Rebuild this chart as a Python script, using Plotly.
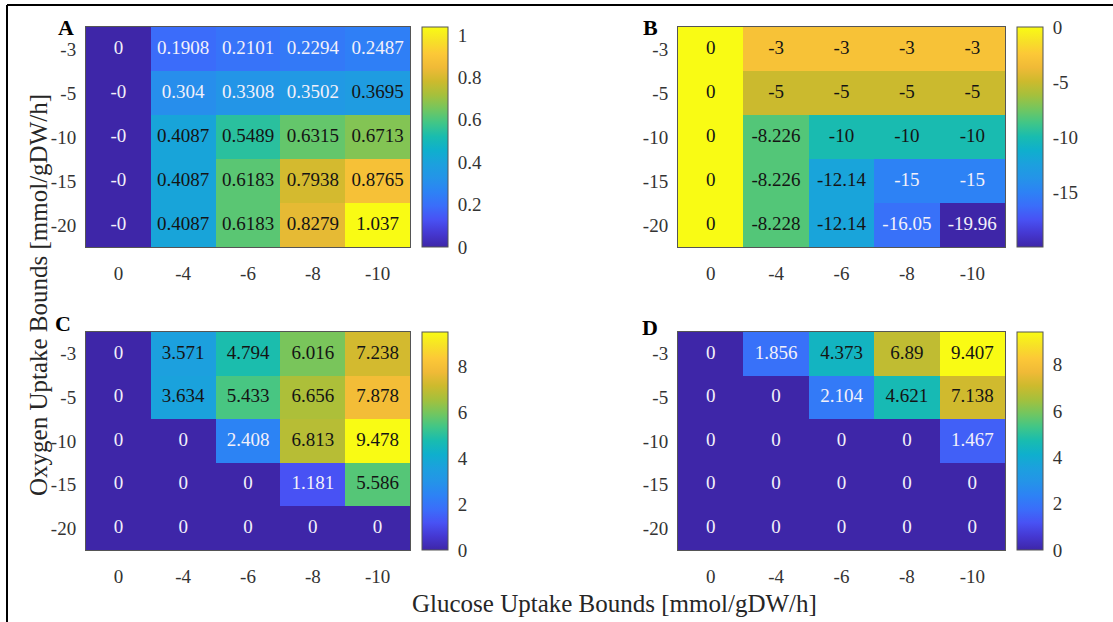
import plotly.graph_objects as go

W, H = 1113, 622

glucose = ["0", "-4", "-6", "-8", "-10"]
oxygen = ["-3", "-5", "-10", "-15", "-20"]

vals_A = [
    [0.0, 0.1908, 0.2101, 0.2294, 0.2487],
    [-0.0, 0.304, 0.3308, 0.3502, 0.3695],
    [-0.0, 0.4087, 0.5489, 0.6315, 0.6713],
    [-0.0, 0.4087, 0.6183, 0.7938, 0.8765],
    [-0.0, 0.4087, 0.6183, 0.8279, 1.037],
]
vals_B = [
    [0, -3, -3, -3, -3],
    [0, -5, -5, -5, -5],
    [0, -8.226, -10, -10, -10],
    [0, -8.226, -12.14, -15, -15],
    [0, -8.228, -12.14, -16.05, -19.96],
]
vals_C = [
    [0, 3.571, 4.794, 6.016, 7.238],
    [0, 3.634, 5.433, 6.656, 7.878],
    [0, 0, 2.408, 6.813, 9.478],
    [0, 0, 0, 1.181, 5.586],
    [0, 0, 0, 0, 0],
]
vals_D = [
    [0, 1.856, 4.373, 6.89, 9.407],
    [0, 0, 2.104, 4.621, 7.138],
    [0, 0, 0, 0, 1.467],
    [0, 0, 0, 0, 0],
    [0, 0, 0, 0, 0],
]
cbar_ticks_A = [0, 0.2, 0.4, 0.6, 0.8, 1]
cbar_ticks_B = [-15, -10, -5, 0]
cbar_ticks_C = [0, 2, 4, 6, 8]
cbar_ticks_D = [0, 2, 4, 6, 8]
panel_letters = ["A", "B", "C", "D"]

parula = [
    [0.000, "rgb(62,38,168)"],
    [0.063, "rgb(69,56,210)"],
    [0.125, "rgb(72,82,244)"],
    [0.188, "rgb(58,110,250)"],
    [0.250, "rgb(45,130,245)"],
    [0.314, "rgb(36,148,232)"],
    [0.376, "rgb(28,160,222)"],
    [0.439, "rgb(15,175,205)"],
    [0.502, "rgb(25,188,175)"],
    [0.565, "rgb(65,198,135)"],
    [0.627, "rgb(115,198,95)"],
    [0.690, "rgb(165,192,60)"],
    [0.753, "rgb(205,186,45)"],
    [0.816, "rgb(240,186,55)"],
    [0.878, "rgb(252,200,55)"],
    [0.940, "rgb(247,226,38)"],
    [1.000, "rgb(249,251,20)"],
]

FONT = "Liberation Serif, Times New Roman, serif"
TICKC = "#333333"

panels = [
    dict(x0=86, x1=410, y0=27, y1=247, cb=422),
    dict(x0=678, x1=1005, y0=27, y1=247, cb=1017),
    dict(x0=86, x1=410, y0=332, y1=550, cb=422),
    dict(x0=678, x1=1005, y0=332, y1=550, cb=1017),
]
letter_pos = [(66, 28), (650, 28), (63, 323), (650, 327)]
data = [vals_A, vals_B, vals_C, vals_D]
cticks = [cbar_ticks_A, cbar_ticks_B, cbar_ticks_C, cbar_ticks_D]

fig = go.Figure()
layout = {}
for i, (vals, p, ct) in enumerate(zip(data, panels, cticks)):
    n = i + 1
    xa = "x" if n == 1 else f"x{n}"
    ya = "y" if n == 1 else f"y{n}"
    flat = [v for row in vals for v in row]
    zmin, zmax = min(flat), max(flat)
    fig.add_trace(go.Heatmap(
        z=vals, x=glucose, y=oxygen, xaxis=xa, yaxis=ya,
        colorscale=parula, zmin=zmin, zmax=zmax, xgap=0, ygap=0,
        colorbar=dict(
            x=p["cb"] / W, xanchor="left", xref="paper",
            y=1 - (p["y0"] + p["y1"]) / 2 / H, yanchor="middle",
            len=(p["y1"] - p["y0"]) / H, lenmode="fraction",
            thickness=26, thicknessmode="pixels", xpad=0, ypad=0,
            outlinewidth=1, outlinecolor="#555555",
            tickvals=ct, ticktext=[f"{t:g}" for t in ct],
            ticks="outside", ticklen=6,
            tickcolor="rgba(0,0,0,0)",
            tickfont=dict(family=FONT, size=19, color=TICKC),
        ),
        hoverinfo="skip",
    ))
    xs, ys, ts, cs = [], [], [], []
    for r, oy in enumerate(oxygen):
        for c, gx in enumerate(glucose):
            v = vals[r][c]
            xs.append(gx)
            ys.append(oy)
            ts.append(f"{v:.4g}")
            norm = (v - zmin) / (zmax - zmin)
            cs.append("#f2f0fa" if norm < 0.347 else "#141414")
    fig.add_trace(go.Scatter(
        x=xs, y=ys, mode="text", text=ts, xaxis=xa, yaxis=ya,
        textfont=dict(family=FONT, size=19, color=cs),
        hoverinfo="skip", showlegend=False,
    ))
    axis_common = dict(
        type="category", showgrid=False, zeroline=False,
        showline=True, mirror=True, linecolor="#555555", linewidth=1,
        ticks="outside", tickcolor="rgba(0,0,0,0)",
        tickfont=dict(family=FONT, size=19, color=TICKC),
    )
    layout["xaxis" if n == 1 else f"xaxis{n}"] = dict(
        axis_common, domain=[p["x0"] / W, p["x1"] / W],
        anchor=ya, range=[-0.5, 4.5], ticklen=9,
        categoryorder="array", categoryarray=glucose,
    )
    layout["yaxis" if n == 1 else f"yaxis{n}"] = dict(
        axis_common, domain=[1 - p["y1"] / H, 1 - p["y0"] / H],
        anchor=xa, range=[4.5, -0.5], ticklen=5,
        categoryorder="array", categoryarray=oxygen,
    )

annotations = []
for letter, (lx, ly) in zip(panel_letters, letter_pos):
    annotations.append(dict(
        text=f"<b>{letter}</b>", x=lx / W, y=1 - ly / H, xref="paper", yref="paper",
        xanchor="center", yanchor="middle", showarrow=False,
        font=dict(family=FONT, size=22, color="black"),
    ))
annotations.append(dict(
    text="Glucose Uptake Bounds [mmol/gDW/h]", x=614 / W, y=1 - 603 / H,
    xref="paper", yref="paper", xanchor="center", yanchor="middle",
    showarrow=False, font=dict(family=FONT, size=25, color="#262626"),
))
annotations.append(dict(
    text="Oxygen Uptake Bounds [mmol/gDW/h]", x=38 / W, y=1 - 295 / H,
    xref="paper", yref="paper", xanchor="center", yanchor="middle",
    textangle=-90, showarrow=False, font=dict(family=FONT, size=25, color="#262626"),
))

shapes = [
    dict(type="line", xref="paper", yref="paper", x0=7 / W, x1=1.0,
         y0=1 - 5 / H, y1=1 - 5 / H, line=dict(color="black", width=2)),
    dict(type="line", xref="paper", yref="paper", x0=7 / W, x1=7 / W,
         y0=0, y1=1 - 5 / H, line=dict(color="black", width=2)),
]

fig.update_layout(
    width=W, height=H, margin=dict(l=0, r=0, t=0, b=0),
    paper_bgcolor="white", plot_bgcolor="white",
    showlegend=False, annotations=annotations, shapes=shapes,
    **layout,
)
fig.write_html(
    "out.html",
    config={"displayModeBar": False},
    post_script="document.body.style.margin='0px';document.body.style.overflow='hidden';",
)
